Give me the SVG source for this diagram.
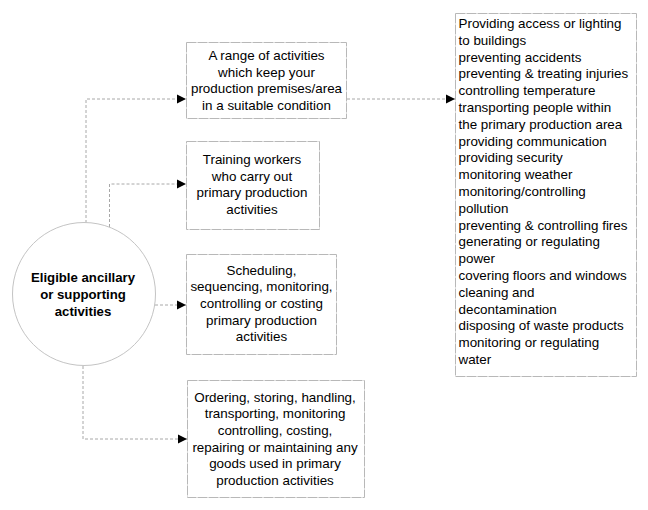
<svg xmlns="http://www.w3.org/2000/svg" width="648" height="510" viewBox="0 0 648 510">
<style>
.box{fill:#fff;stroke:#b8b8b8;stroke-width:1;stroke-dasharray:10,1}
.c{fill:none;stroke:#a8a8a8;stroke-width:1;stroke-dasharray:3,2}
text{font-family:"Liberation Sans",Arial,sans-serif;font-size:13.4px;fill:#000}
.m{text-anchor:middle}
.b{font-weight:bold;font-size:13.2px}
</style>
<defs>
<marker id="ah" viewBox="0 0 10 10" refX="10" refY="5" markerWidth="9" markerHeight="10" markerUnits="userSpaceOnUse" orient="auto">
<path d="M0,0 L10,5 L0,10 Z" fill="#000"/>
</marker>
</defs>
<rect width="648" height="510" fill="#fff"/>
<g id="connectors">
<path class="c" d="M86,223 V99 H186" marker-end="url(#ah)"/>
<path class="c" d="M109.5,227 V184 H186" marker-end="url(#ah)"/>
<path class="c" d="M155,305 H186" marker-end="url(#ah)"/>
<path class="c" d="M83,366 V439 H187" marker-end="url(#ah)"/>
<path class="c" d="M347,99 H455" marker-end="url(#ah)"/>
</g>
<g id="circle">
<circle class="box" cx="84" cy="294" r="71.5" style="stroke-dasharray:none;stroke:#c4c4c4"/>
<text class="m b" x="83" y="282">Eligible ancillary</text>
<text class="m b" x="83" y="299">or supporting</text>
<text class="m b" x="83" y="316">activities</text>
</g>
<g id="box1">
<rect class="box" x="186.5" y="42.5" width="160" height="76"/>
<text class="m" x="266.5" y="60">A range of activities</text>
<text class="m" x="266.5" y="76.7">which keep your</text>
<text class="m" x="266.5" y="93.4">production premises/area</text>
<text class="m" x="266.5" y="110.1">in a suitable condition</text>
</g>
<g id="box2">
<rect class="box" x="186.5" y="141.5" width="133" height="88"/>
<text class="m" x="252" y="164">Training workers</text>
<text class="m" x="252" y="180.7">who carry out</text>
<text class="m" x="252" y="197.4">primary production</text>
<text class="m" x="252" y="214.1">activities</text>
</g>
<g id="box3">
<rect class="box" x="186.5" y="254.5" width="150" height="100"/>
<text class="m" x="261.5" y="274.5">Scheduling,</text>
<text class="m" x="261.5" y="291.2">sequencing, monitoring,</text>
<text class="m" x="261.5" y="307.9">controlling or costing</text>
<text class="m" x="261.5" y="324.6">primary production</text>
<text class="m" x="261.5" y="341.3">activities</text>
</g>
<g id="box4">
<rect class="box" x="187.5" y="380.5" width="177" height="117"/>
<text class="m" x="275" y="401.5">Ordering, storing, handling,</text>
<text class="m" x="275" y="418.2">transporting, monitoring</text>
<text class="m" x="275" y="434.9">controlling, costing,</text>
<text class="m" x="275" y="451.6">repairing or maintaining any</text>
<text class="m" x="275" y="468.3">goods used in primary</text>
<text class="m" x="275" y="485">production activities</text>
</g>
<g id="list">
<rect class="box" x="455.5" y="13.5" width="181" height="363"/>
<text x="458.5" y="28">Providing access or lighting</text>
<text x="458.5" y="44.8">to buildings</text>
<text x="458.5" y="61.6">preventing accidents</text>
<text x="458.5" y="78.4">preventing &amp; treating injuries</text>
<text x="458.5" y="95.2">controlling temperature</text>
<text x="458.5" y="112">transporting people within</text>
<text x="458.5" y="128.8">the primary production area</text>
<text x="458.5" y="145.6">providing communication</text>
<text x="458.5" y="162.4">providing security</text>
<text x="458.5" y="179.2">monitoring weather</text>
<text x="458.5" y="196">monitoring/controlling</text>
<text x="458.5" y="212.8">pollution</text>
<text x="458.5" y="229.6">preventing &amp; controlling fires</text>
<text x="458.5" y="246.4">generating or regulating</text>
<text x="458.5" y="263.2">power</text>
<text x="458.5" y="280">covering floors and windows</text>
<text x="458.5" y="296.8">cleaning and</text>
<text x="458.5" y="313.6">decontamination</text>
<text x="458.5" y="330.4">disposing of waste products</text>
<text x="458.5" y="347.2">monitoring or regulating</text>
<text x="458.5" y="364">water</text>
</g>
</svg>
